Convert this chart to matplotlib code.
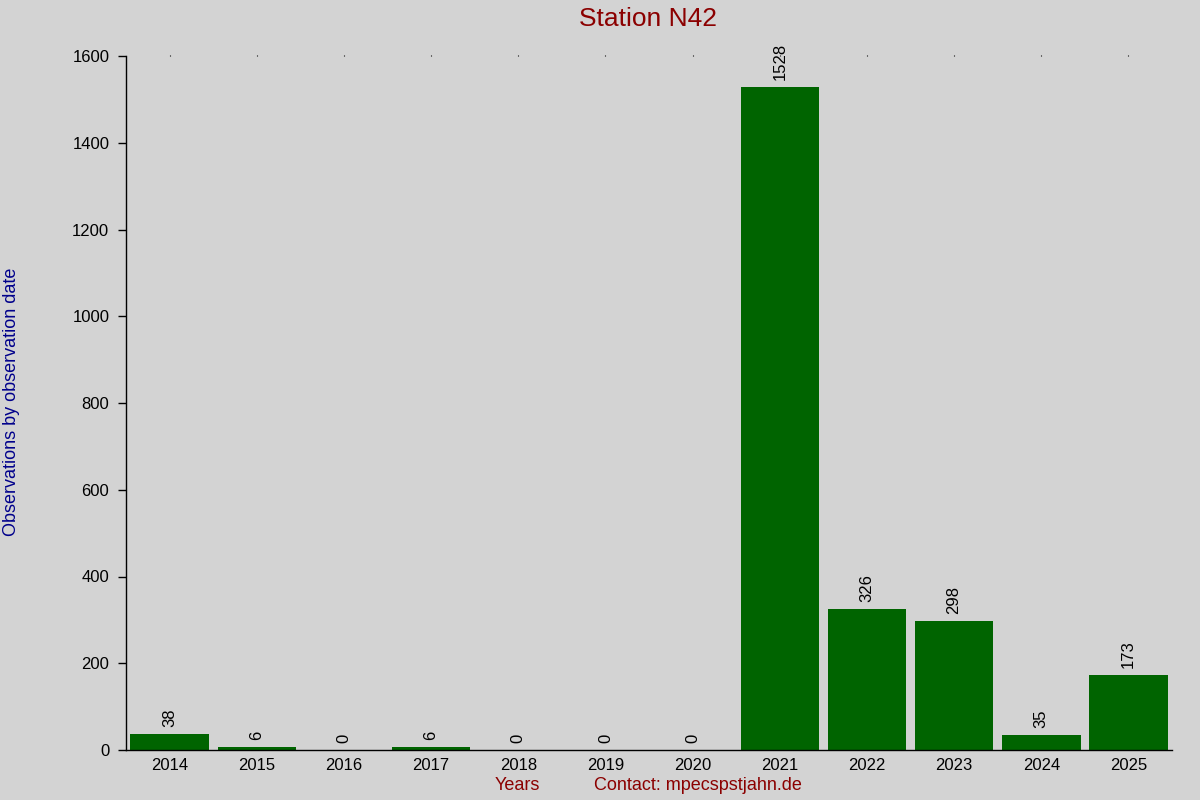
import matplotlib
matplotlib.use("Agg")
import matplotlib.pyplot as plt

years = ["2014", "2015", "2016", "2017", "2018", "2019", "2020",
         "2021", "2022", "2023", "2024", "2025"]
counts = [38, 6, 0, 6, 0, 0, 0, 1528, 326, 298, 35, 173]

bg = "#d3d3d3"
plt.rcParams["font.family"] = ["Liberation Sans", "DejaVu Sans"]

fig = plt.figure(figsize=(12, 8), dpi=100, facecolor=bg)
ax = fig.add_axes([0.105, 0.0625, 0.8717, 0.8675], facecolor=bg)

x = list(range(len(years)))
ax.bar(x, counts, width=0.9, color="#006400")

# value labels above the bars
for xi, c in zip(x, counts):
    ax.annotate(str(c), (xi, c), xytext=(0, 5), textcoords="offset points",
                rotation=90, ha="center", va="bottom", fontsize=12)

ax.set_xlim(-0.5, len(years) - 0.5)
ax.set_ylim(0, 1600)
ax.set_xticks(x)
ax.set_xticklabels(years, fontsize=12)
ax.set_yticks(range(0, 1601, 200))
ax.tick_params(axis="y", labelsize=12, length=6, width=1, pad=6)
ax.tick_params(axis="x", bottom=False, top=True, length=1, width=0.8, pad=5)

for s in ["top", "right"]:
    ax.spines[s].set_visible(False)
for s in ["left", "bottom"]:
    ax.spines[s].set_linewidth(1)

fig.text(0.54, 0.976, "Station N42", ha="center", va="center",
         fontsize=19, color="#8b0000")
fig.text(0.01, 0.4975, "Observations by observation date", rotation=90,
         ha="center", va="center", fontsize=13, color="#00008b")
fig.text(0.431, 0.0175, "Years", ha="center", va="center",
         fontsize=13, color="#8b0000")
fig.text(0.5815, 0.0175, "Contact: mpecspstjahn.de", ha="center", va="center",
         fontsize=13, color="#8b0000")

fig.savefig("out.png", dpi=100, facecolor=bg)
